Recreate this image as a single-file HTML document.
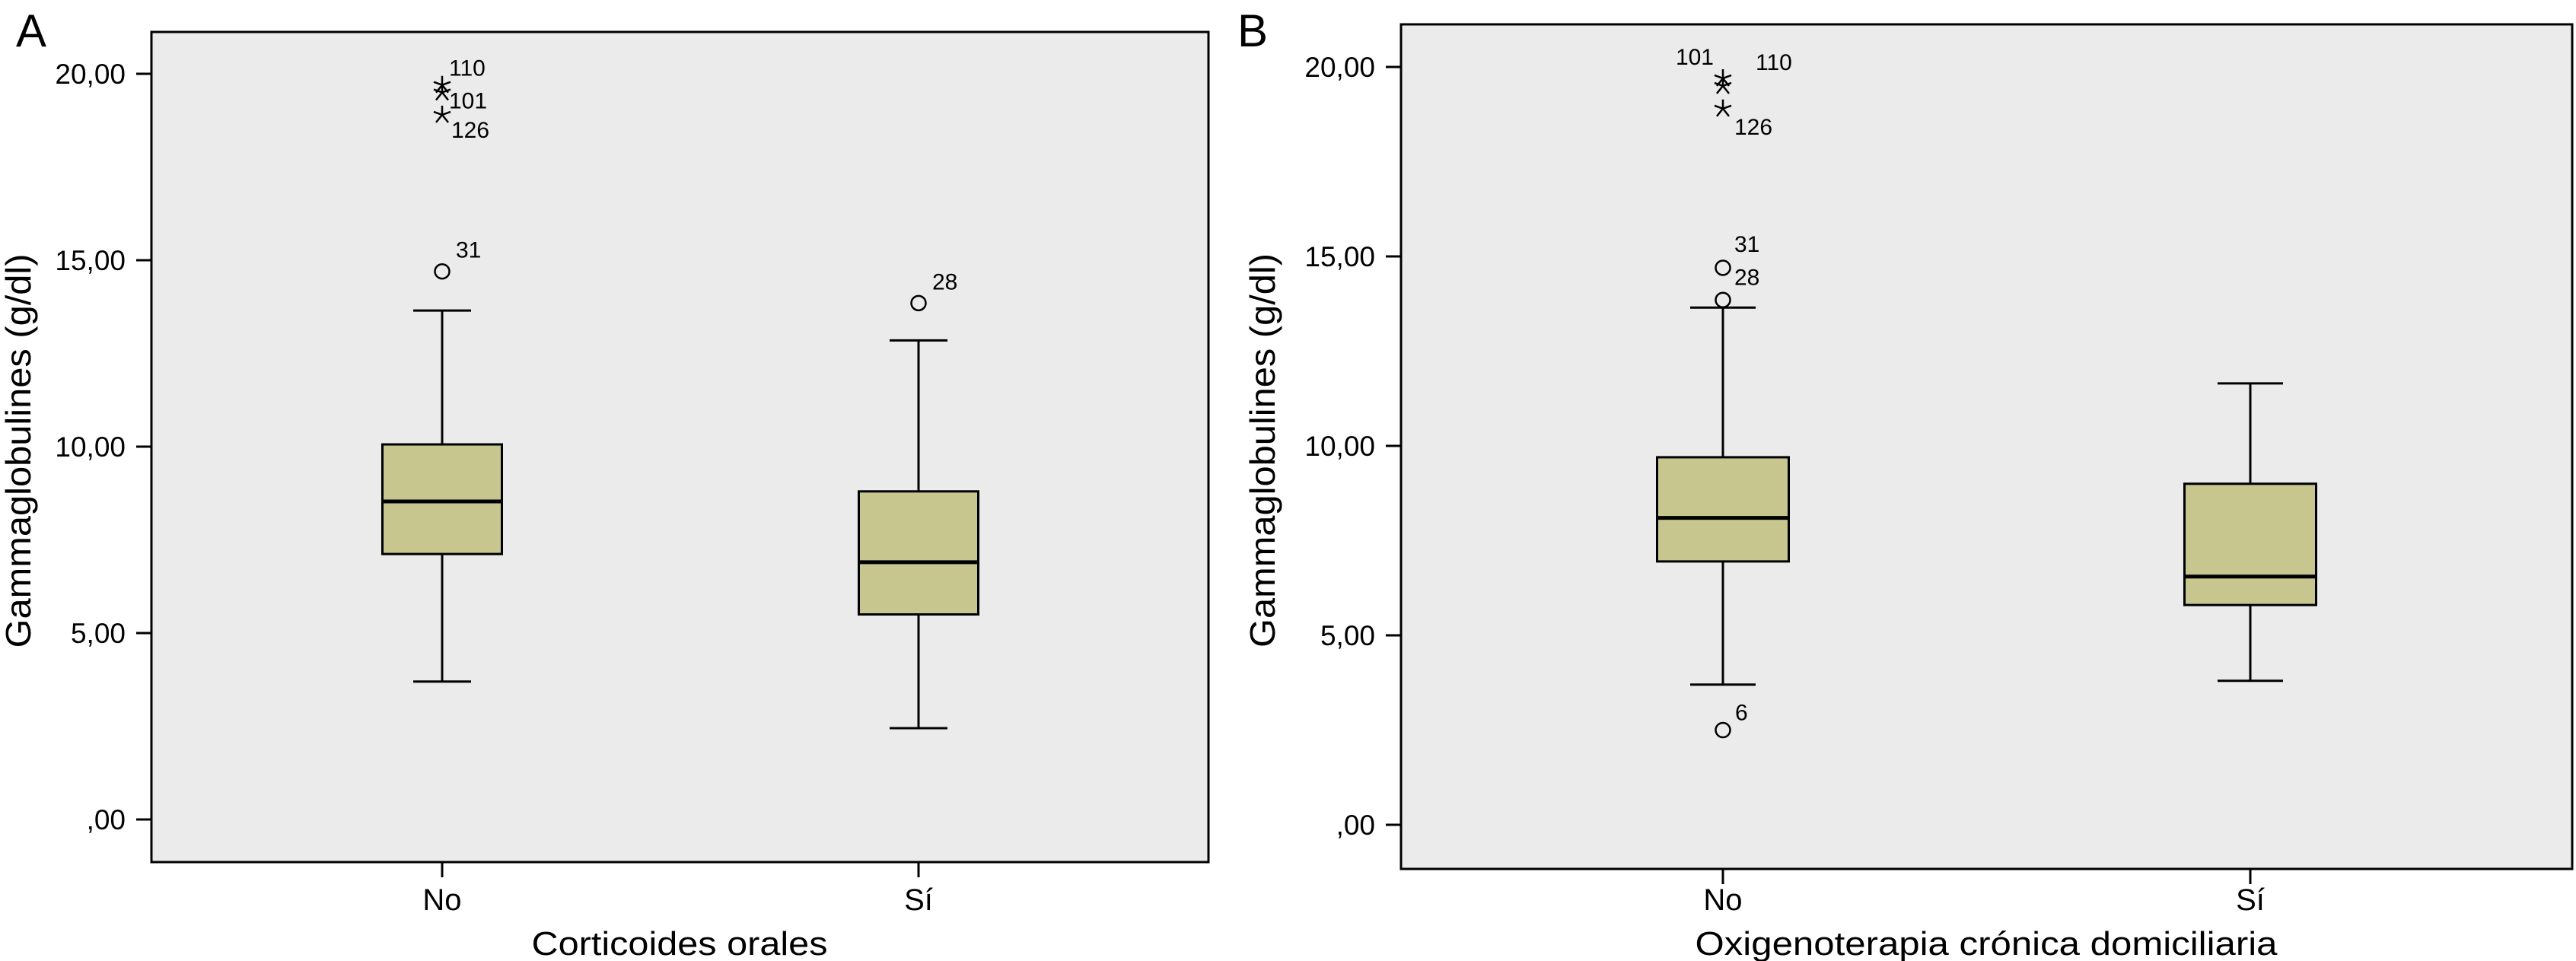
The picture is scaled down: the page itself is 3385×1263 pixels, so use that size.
<!DOCTYPE html>
<html><head><meta charset="utf-8"><style>
html,body{margin:0;padding:0;background:#fff}
svg{display:block}
text{font-family:"Liberation Sans",sans-serif;fill:#000}
</style></head><body>
<svg id="chart" width="3385" height="1263" viewBox="0 0 3385 1263" xmlns="http://www.w3.org/2000/svg"></svg>
<script>
const categories = ["No", "Sí"];
const yTicks = [0, 5, 10, 15, 20];
const yTickLabels = [",00", "5,00", "10,00", "15,00", "20,00"];
// Panel A: Corticoides orales
const aWhiskLow = [3.7, 2.45];
const aQ1 = [7.12, 5.5];
const aMedian = [8.53, 6.9];
const aQ3 = [10.06, 8.8];
const aWhiskHigh = [13.65, 12.85];
const aCircleCat = [0, 1];
const aCircleVal = [14.7, 13.85];
const aCircleLbl = ["31", "28"];
const aStarCat = [0, 0, 0];
const aStarVal = [19.7, 19.5, 18.9];
const aStarLbl = ["110", "101", "126"];
// Panel B: Oxigenoterapia crónica domiciliaria
const bWhiskLow = [3.7, 3.8];
const bQ1 = [6.95, 5.8];
const bMedian = [8.1, 6.55];
const bQ3 = [9.7, 9.0];
const bWhiskHigh = [13.65, 11.65];
const bCircleCat = [0, 0, 0];
const bCircleVal = [14.7, 13.85, 2.5];
const bCircleLbl = ["31", "28", "6"];
const bStarCat = [0, 0, 0];
const bStarVal = [19.7, 19.5, 18.9];
const bStarLbl = ["110", "101", "126"];

const NS = "http://www.w3.org/2000/svg";
const svg = document.getElementById('chart');
function mk(tag, attrs, parent, txt) {
  const e = document.createElementNS(NS, tag);
  for (const k in attrs) e.setAttribute(k, attrs[k]);
  if (txt !== undefined) e.textContent = txt;
  (parent || svg).appendChild(e);
  return e;
}

const panels = [
  {id:'a', letter:'A', letterX:21, left:199, right:1588, top:42, bottom:1133, y0:1077, pxPer:49,
   catX:[581, 1207], boxW:157, capW:76, xTitle:"Corticoides orales", xTitleLen:389, xTitleX:893, ylabX:40,
   wl:aWhiskLow, q1:aQ1, md:aMedian, q3:aQ3, wh:aWhiskHigh,
   cc:aCircleCat, cv:aCircleVal, cl:aCircleLbl, sc:aStarCat, sv:aStarVal, sl:aStarLbl,
   starLblPos:[[9,-12,'start'],[9,21,'start'],[12,30,'start']],
   circLblPos:[[18,-18,'start'],[18,-18,'start']]},
  {id:'b', letter:'B', letterX:1626, left:1841, right:3380, top:32, bottom:1142, y0:1084, pxPer:49.8,
   catX:[2264, 2957], boxW:173, capW:86, xTitle:"Oxigenoterapia crónica domiciliaria", xTitleLen:765, xTitleX:2610, ylabX:1675,
   wl:bWhiskLow, q1:bQ1, md:bMedian, q3:bQ3, wh:bWhiskHigh,
   cc:bCircleCat, cv:bCircleVal, cl:bCircleLbl, sc:bStarCat, sv:bStarVal, sl:bStarLbl,
   starLblPos:[[43,-11,'start'],[-12,-28,'end'],[15,34,'start']],
   circLblPos:[[15,-21,'start'],[15,-20,'start'],[16,-13,'start']]}
];

panels.forEach(p => {
  const y = v => p.y0 - v * p.pxPer;
  const g = mk('g', {});
  
  
  const lt = mk('text', {x:p.letterX, y:61, 'font-size':60}, g, p.letter);
  
  
  const bg = mk('rect', {x:p.left, y:p.top, width:p.right-p.left, height:p.bottom-p.top, fill:'#ebebeb', stroke:'#000', 'stroke-width':3}, g);
  
  
  yTicks.forEach((t, i) => {
    const tk = mk('line', {x1:p.left-20, x2:p.left, y1:y(t), y2:y(t), stroke:'#000', 'stroke-width':3}, g);
    
    
    const tx = p.left-34;
    const tl = mk('text', {x:tx, y:y(t)+13, 'font-size':37, 'text-anchor':'end'}, g, yTickLabels[i]);
    
    
  });
  const yl = mk('text', {x:0, y:0, 'font-size':46, 'text-anchor':'middle', transform:`translate(${p.ylabX},${(p.top+p.bottom)/2 + 5}) rotate(-90)`, textLength:518, lengthAdjust:'spacingAndGlyphs'}, g, "Gammaglobulines (g/dl)");
  
  
  categories.forEach((c, i) => {
    const cx = p.catX[i];
    const tk = mk('line', {x1:cx, x2:cx, y1:p.bottom, y2:p.bottom+20, stroke:'#000', 'stroke-width':3}, g);
    
    
    const tl = mk('text', {x:cx, y:1196, 'font-size':40, 'text-anchor':'middle'}, g, c);
    
    
    const hw = p.boxW/2, cw = p.capW/2;
    const wk = mk('line', {x1:cx, x2:cx, y1:y(p.wl[i]), y2:y(p.wh[i]), stroke:'#000', 'stroke-width':3}, g);
    
    
    [p.wl[i], p.wh[i]].forEach(v => {
      const cp = mk('line', {x1:cx-cw, x2:cx+cw, y1:y(v), y2:y(v), stroke:'#000', 'stroke-width':3}, g);
      
      
    });
    const bx = mk('rect', {x:cx-hw, y:y(p.q3[i]), width:p.boxW, height:y(p.q1[i])-y(p.q3[i]), fill:'#c6c68e', stroke:'#000', 'stroke-width':3}, g);
    
    
    const md = mk('line', {x1:cx-hw, x2:cx+hw, y1:y(p.md[i]), y2:y(p.md[i]), stroke:'#000', 'stroke-width':5}, g);
    
    
  });
  p.cv.forEach((v, i) => {
    const cx = p.catX[p.cc[i]];
    const c = mk('circle', {cx:cx, cy:y(v), r:9.5, fill:'none', stroke:'#000', 'stroke-width':2.5}, g);
    
    
    const lp = p.circLblPos[i];
    const t = mk('text', {x:cx+lp[0], y:y(v)+lp[1], 'font-size':30, 'text-anchor':lp[2]}, g, p.cl[i]);
    
    
  });
  p.sv.forEach((v, i) => {
    const cx = p.catX[p.sc[i]], cy = y(v);
    const s = mk('path', {d:`M${cx},${cy-12}L${cx},${cy} M${cx-11},${cy-4}L${cx},${cy} L${cx+11},${cy-4} M${cx-8},${cy+10}L${cx},${cy}L${cx+8},${cy+10}`, fill:'none', stroke:'#000', 'stroke-width':2.5}, g);
    
    
    const lp = p.starLblPos[i];
    const t = mk('text', {x:cx+lp[0], y:cy+lp[1], 'font-size':30, 'text-anchor':lp[2]}, g, p.sl[i]);
    
    
  });
  const xt = mk('text', {x:p.xTitleX, y:1255, 'font-size':44, 'text-anchor':'middle', textLength:p.xTitleLen, lengthAdjust:'spacingAndGlyphs'}, g, p.xTitle);
  
  
});
</script>
</body></html>
